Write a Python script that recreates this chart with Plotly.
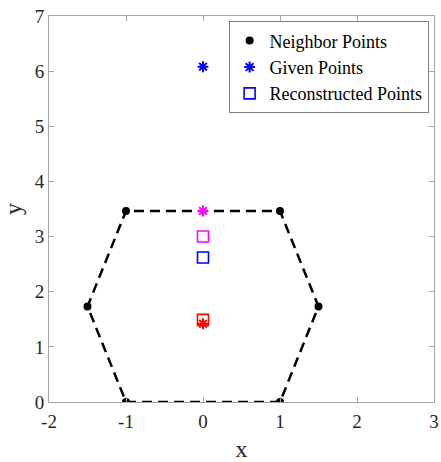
import plotly.graph_objects as go

# Data
neighbor_x = [-1, 1, 1.5, 1, -1, -1.5]
neighbor_y = [0, 0, 1.732, 3.464, 3.464, 1.732]
given_x = [0, 0, 0]
given_y = [6.08, 3.464, 1.42]
given_colors = ["#0000FF", "#FF00FF", "#FF0000"]
recon_x = [0, 0, 0]
recon_y = [2.62, 3.0, 1.49]
recon_colors = ["#0000FF", "#FF00FF", "#FF0000"]
x_ticks = [-2, -1, 0, 1, 2, 3]
x_ticklabels = ["-2", "-1", "0", "1", "2", "3"]
y_ticks = [0, 1, 2, 3, 4, 5, 6, 7]

FONT = "Liberation Serif, Times New Roman, serif"

fig = go.Figure()

# hexagon outline (closed)
fig.add_trace(go.Scatter(
    x=neighbor_x + [neighbor_x[0]], y=neighbor_y + [neighbor_y[0]],
    mode="lines", line=dict(color="black", width=2.5, dash="10px,6px"),
    showlegend=False, hoverinfo="skip"))

fig.add_trace(go.Scatter(
    x=neighbor_x, y=neighbor_y, mode="markers", name="Neighbor Points",
    marker=dict(color="black", size=8, symbol="circle"), legendrank=1))

fig.add_trace(go.Scatter(
    x=recon_x, y=recon_y, mode="markers", name="Reconstructed Points",
    marker=dict(symbol="square-open", size=11, color=recon_colors,
                line=dict(width=1.6)), legendrank=3))

fig.add_trace(go.Scatter(
    x=given_x, y=given_y, mode="markers", name="Given Points",
    marker=dict(symbol="asterisk-open", size=9, color=given_colors,
                line=dict(width=2, color=given_colors)), legendrank=2))

axis_common = dict(
    showgrid=False, zeroline=False, showline=True, linecolor="#a6a6a6",
    linewidth=1, mirror="ticks", ticks="inside", ticklen=5, tickcolor="#a6a6a6",
    tickfont=dict(family=FONT, size=19, color="#262626"), automargin=False,
)

fig.update_xaxes(range=[-2, 3], tickvals=x_ticks, ticktext=x_ticklabels, **axis_common,
                 ticklabelstandoff=2,
                 title=dict(text="x", font=dict(family=FONT, size=24, color="#262626"), standoff=23))
fig.update_yaxes(range=[0, 7], tickvals=y_ticks, **axis_common,
                 title=dict(text="y", font=dict(family=FONT, size=24, color="#262626"), standoff=6))

fig.update_layout(
    width=441, height=462,
    margin=dict(l=49, r=7, t=16, b=60),
    plot_bgcolor="white", paper_bgcolor="white",
    legend=dict(x=0.986, y=0.986, xanchor="right", yanchor="top",
                bordercolor="#808080", borderwidth=1, bgcolor="white",
                font=dict(family=FONT, size=18, color="black"),
                itemwidth=30, tracegroupgap=0),
)

fig.write_html("out.html")
